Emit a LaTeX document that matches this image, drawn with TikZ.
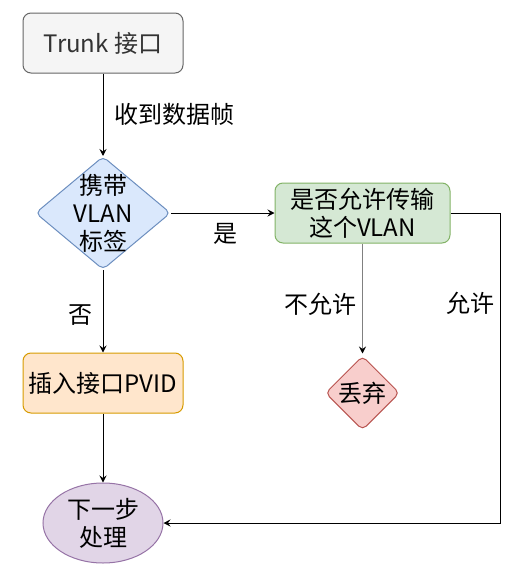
\documentclass[tikz,border=0pt]{standalone}
\usepackage{fontspec}
\setmainfont{Noto Sans CJK SC}
\usetikzlibrary{shapes.geometric,arrows.meta}

\definecolor{trunkfill}{HTML}{F5F5F5}
\definecolor{trunkline}{HTML}{666666}
\definecolor{trunktext}{HTML}{333333}
\definecolor{tagfill}{HTML}{DAE8FC}
\definecolor{tagline}{HTML}{6C8EBF}
\definecolor{allowfill}{HTML}{D5E8D4}
\definecolor{allowline}{HTML}{82B366}
\definecolor{dropfill}{HTML}{F8CECC}
\definecolor{dropline}{HTML}{B85450}
\definecolor{pvidfill}{HTML}{FFE6CC}
\definecolor{pvidline}{HTML}{D79B00}
\definecolor{nextfill}{HTML}{E1D5E7}
\definecolor{nextline}{HTML}{9673A6}
\definecolor{dropedge}{HTML}{808080}

\begin{document}
\begin{tikzpicture}[x=1pt, y=-1pt, line width=1pt,
    >={Stealth[length=7pt, width=7pt, inset=2.5pt]},
    font=\fontsize{24}{28}\selectfont,
    box/.style={draw, rounded corners=8pt, minimum width=160pt, minimum height=60pt, align=center, inner sep=0pt},
    decision/.style={draw, diamond, rounded corners=5pt, inner sep=0pt, align=center}]
    \useasboundingbox (0,0) rectangle (526,573);

    \node[box, fill=trunkfill, draw=trunkline, text=trunktext] (trunk) at (103,43) {Trunk 接口};
    \node[decision, fill=tagfill, draw=tagline, minimum width=135pt, minimum height=113pt,
          label={[align=center]center:携带\\VLAN\\标签}] (tag) at (103,213) {};
    \node[box, fill=allowfill, draw=allowline, minimum width=175pt] (allow) at (362.5,213) {是否允许传输\\这个VLAN};
    \node[decision, fill=dropfill, draw=dropline, minimum width=74pt, minimum height=74pt] (drop) at (362.5,393) {丢弃};
    \node[box, fill=pvidfill, draw=pvidline] (pvid) at (103,383) {插入接口PVID};
    \node[ellipse, fill=nextfill, draw=nextline, minimum width=120pt, minimum height=80pt,
          align=center, inner sep=0pt] (next) at (103,523) {下一步\\处理};

    \coordinate (turn1) at (500,213);
    \coordinate (turn2) at (500,523);

    \draw[->] (trunk) -- node[midway, right=7.7pt] {收到数据帧} (tag);
    \draw[->] (tag) -- node[midway, below=6.7pt, xshift=3pt] {是} (allow);
    \draw[draw=dropedge, -{Stealth[length=7pt, width=7pt, inset=2.5pt, color=black]}, shorten >=2pt]
        (allow) -- node[midway, left=1.7pt, yshift=-4.5pt, text=black] {不允许} (drop);
    \draw[->] (tag) -- node[midway, left=6.7pt, yshift=-4pt] {否} (pvid);
    \draw[->] (pvid) -- (next);
    \draw[->] (allow) -- (turn1) -- node[pos=0.29, left=1.7pt] {允许} (turn2) -- (next);
\end{tikzpicture}
\end{document}
